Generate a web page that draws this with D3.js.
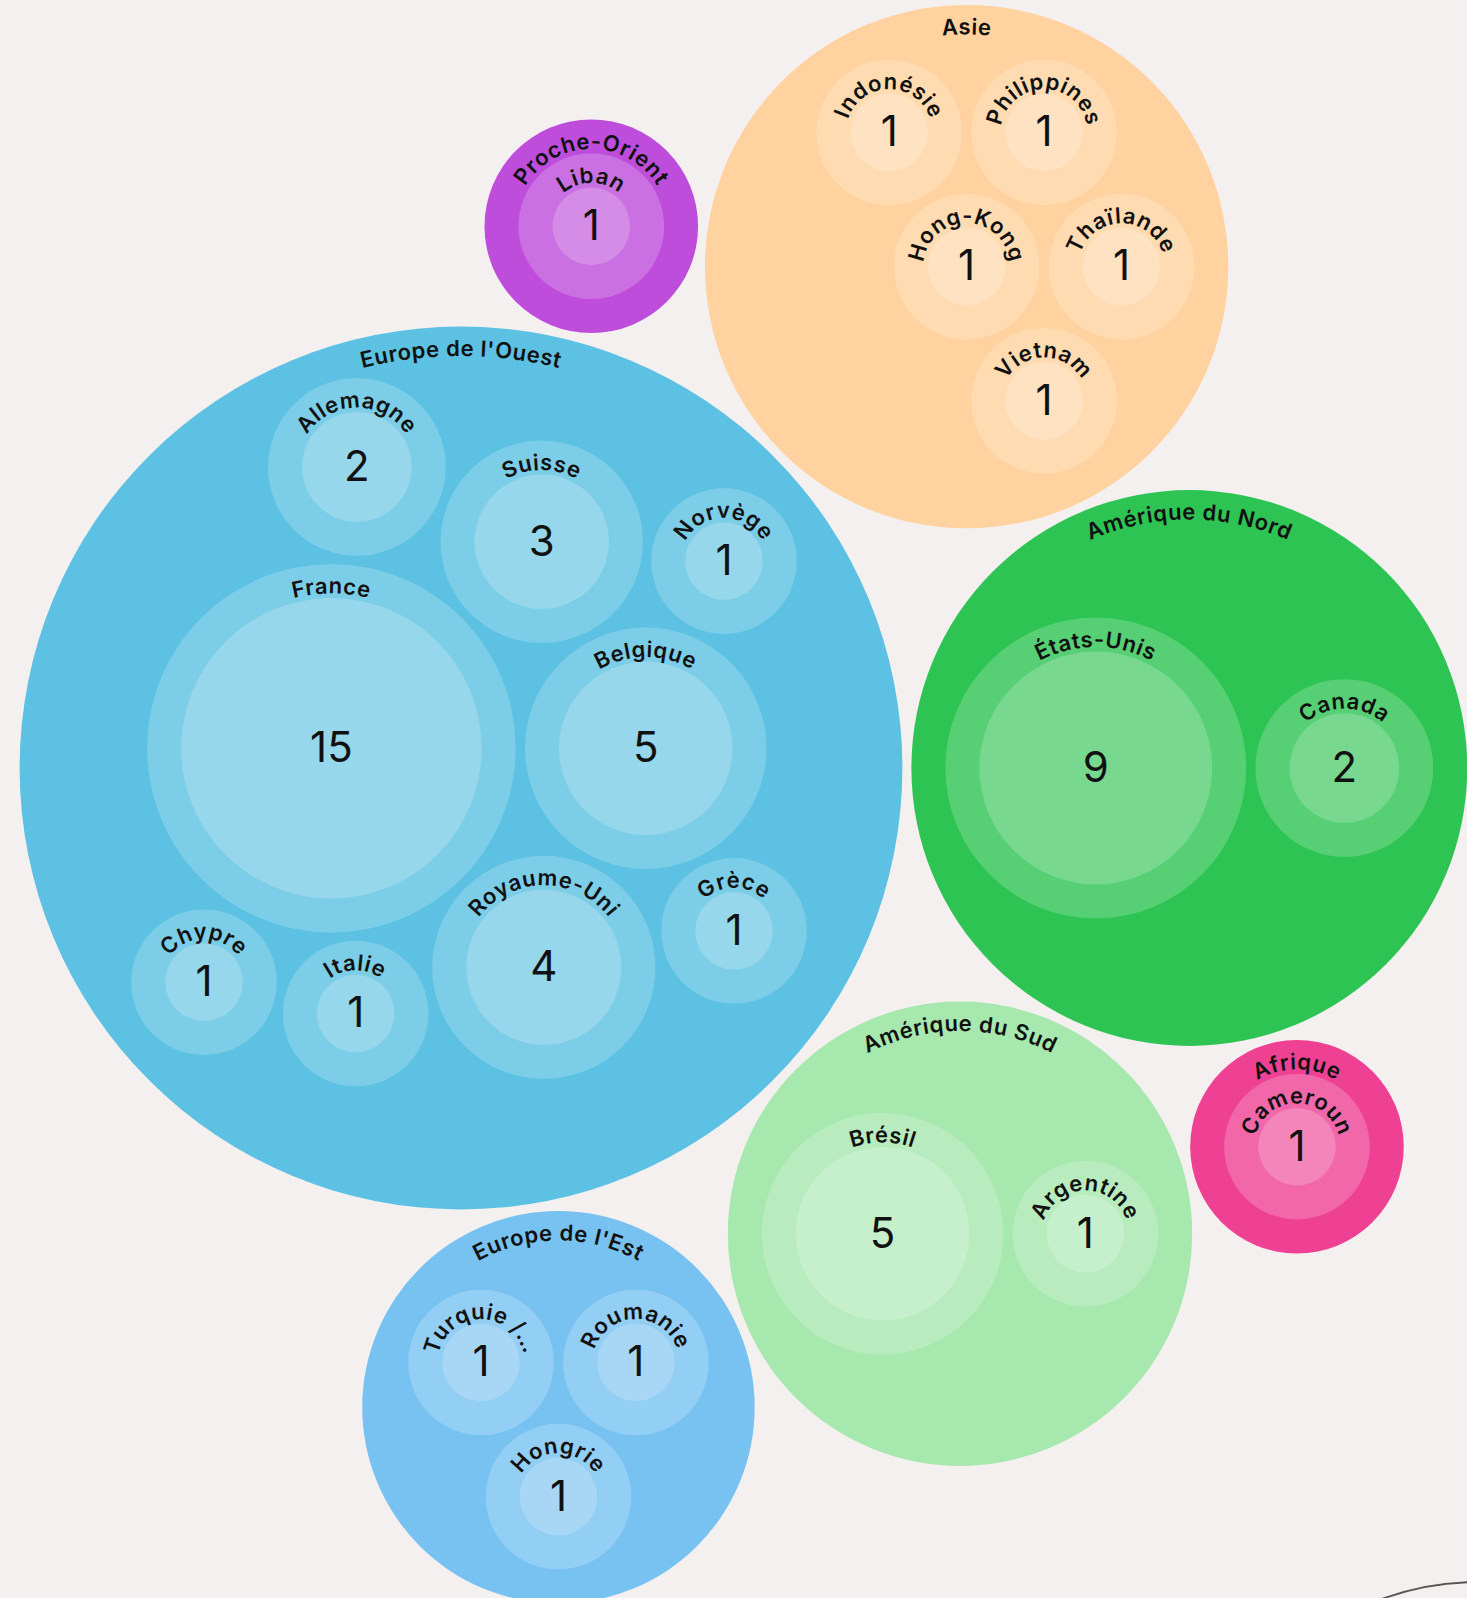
<!DOCTYPE html>
<html><head><meta charset="utf-8">
<script src="https://cdn.jsdelivr.net/npm/d3@7"></script>
<style>
html,body{margin:0;padding:0;background:#f5f0f0;overflow:hidden}
svg{display:block}
text{font-family:Inter,"Noto Sans",sans-serif;fill:#111}
</style></head><body>
<svg id="chart"></svg>
<script>
// ---- data ----
const regions = ["Europe de l'Ouest","Amérique du Nord","Amérique du Sud","Asie","Europe de l'Est","Proche-Orient","Afrique"];
const regionColors = ["#5cc1e2","#2ec453","#a7e8ae","#ffd29f","#78c2f2","#bf4ddb","#ee4194"];
const countries = ["France","Belgique","Royaume-Uni","Suisse","Allemagne","Italie","Norvège","Grèce","Chypre",
  "États-Unis","Canada",
  "Brésil","Argentine",
  "Hong-Kong","Thaïlande","Vietnam","Philippines","Indonésie",
  "Turquie /…","Roumanie","Hongrie",
  "Liban",
  "Cameroun"];
const countryRegion = [0,0,0,0,0,0,0,0,0, 1,1, 2,2, 3,3,3,3,3, 4,4,4, 5, 6];
const countryValues = [15,5,4,3,2,1,1,1,1, 9,2, 5,1, 1,1,1,1,1, 1,1,1, 1, 1];

// ---- layout settings ----
const W = 1467, H = 1598;
const ring = 34, siblingGap = 9.3, edgeGap = 34, rootGap = 9;
const labelInset = 29.5;
const anchor = [461, 768]; // view centre of the largest region

const rLeaf = d3.scaleSqrt().domain([0, 1]).range([0, 38.8]);

const svg = d3.select("#chart").attr("width", W).attr("height", H)
  .style("background", "#f5f0f0");

// build region groups
const regionNodes = regions.map((name, i) => {
  const kids = countries.map((c, j) => ({name: c, value: countryValues[j], region: countryRegion[j]}))
    .filter(d => d.region === i)
    .sort((a, b) => b.value - a.value);
  kids.forEach(k => { k.leafR = rLeaf(k.value); k.r = k.leafR + ring + siblingGap / 2; });
  d3.packSiblings(kids);
  const e = d3.packEnclose(kids);
  kids.forEach(k => { k.r -= siblingGap / 2; k.x -= e.x; k.y -= e.y; });
  const total = d3.sum(kids, k => k.value);
  return {name, color: regionColors[i], kids, value: total, r: e.r - siblingGap / 2 + edgeGap};
});

const rootCircles = regionNodes.slice().sort((a, b) => b.value - a.value);
rootCircles.forEach(d => d.r += rootGap / 2);
d3.packSiblings(rootCircles);
rootCircles.forEach(d => d.r -= rootGap / 2);

const main = rootCircles[0];
const tx = anchor[0] - main.x, ty = anchor[1] - main.y;
const g = svg.append("g").attr("transform", `translate(${tx},${ty})`);

const defs = svg.append("defs");
let pid = 0;
function labelPath(cx, cy, r) {
  const rr = r - labelInset;
  const id = "lp" + (pid++);
  defs.append("path").attr("id", id)
    .attr("d", `M${cx + tx},${cy + ty + rr} A${rr},${rr} 0 1,1 ${cx + tx},${cy + ty - rr} A${rr},${rr} 0 1,1 ${cx + tx},${cy + ty + rr}`);
  return id;
}
function addLabel(id, txt) {
  svg.append("text").style("font-size", "22px").style("font-weight", 600).style("letter-spacing", "0.6px")
    .append("textPath").attr("href", "#" + id).attr("startOffset", "50%").attr("text-anchor", "middle")
    .text(txt);
}

const rg = g.selectAll("g.region").data(rootCircles).join("g").attr("class", "region");
rg.append("circle").attr("cx", d => d.x).attr("cy", d => d.y).attr("r", d => d.r).attr("fill", d => d.color);

rg.each(function(reg) {
  const sel = d3.select(this);
  const cg = sel.selectAll("g.country").data(reg.kids).join("g").attr("class", "country");
  cg.append("circle").attr("cx", d => reg.x + d.x).attr("cy", d => reg.y + d.y).attr("r", d => d.r)
    .attr("fill", "#fff").attr("fill-opacity", 0.2);
  cg.append("circle").attr("cx", d => reg.x + d.x).attr("cy", d => reg.y + d.y).attr("r", d => d.leafR)
    .attr("fill", "#fff").attr("fill-opacity", 0.2);
  cg.append("text").attr("x", d => reg.x + d.x).attr("y", d => reg.y + d.y)
    .attr("dy", "0.33em").attr("text-anchor", "middle")
    .style("font-size", "42px").style("font-weight", 400)
    .text(d => d.value);
  cg.each(function(d) {
    addLabel(labelPath(reg.x + d.x, reg.y + d.y, d.r), d.name);
  });
  addLabel(labelPath(reg.x, reg.y, reg.r), reg.name);
});

// decorative outline partly visible in bottom-right corner
svg.append("circle").attr("cx", 1477).attr("cy", 1858).attr("r", 276)
  .attr("fill", "none").attr("stroke", "#555").attr("stroke-width", 2);
</script>
</body></html>
